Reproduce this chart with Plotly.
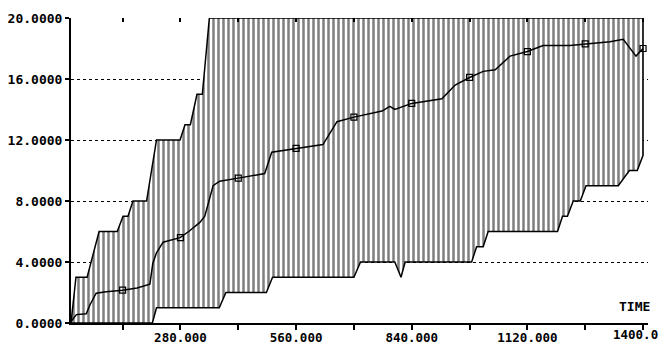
import plotly.graph_objects as go

# Upper envelope (step-like)
upper_x = [15, 27, 54, 83, 127, 141, 153, 165, 198, 222, 279, 291, 304, 320, 333, 345, 350, 1400]
upper_y = [0, 3, 3, 6, 6, 7, 7, 8, 8, 12, 12, 13, 13, 15, 15, 18.5, 20, 20]

# Lower envelope (step-like)
lower_x = [15, 212, 222, 374, 390, 488, 503, 700, 716, 799, 814, 824, 985, 997, 1013, 1025,
           1193, 1205, 1217, 1231, 1248, 1262, 1340, 1367, 1386, 1400]
lower_y = [0, 0, 1, 1, 2, 2, 3, 3, 4, 4, 3, 4, 4, 5, 5, 6,
           6, 7, 7, 8, 8, 9, 9, 10, 10, 11]

# Mean curve
mean_x = [15, 21, 28, 52, 61, 76, 100, 140, 175, 206, 213, 222, 238, 279, 300, 327, 339, 359, 375,
          420, 484, 501, 560, 625, 659, 700, 768, 787, 799, 840, 913, 945, 980, 1013, 1042, 1078,
          1120, 1158, 1223, 1260, 1320, 1352, 1383, 1400]
mean_y = [0.1, 0.3, 0.55, 0.6, 1.2, 1.95, 2.05, 2.15, 2.3, 2.55, 3.9, 4.6, 5.3, 5.6, 6.0, 6.6, 7.0, 9.0, 9.3,
          9.5, 9.8, 11.2, 11.45, 11.7, 13.2, 13.5, 13.9, 14.2, 14.0, 14.4, 14.7, 15.6, 16.1, 16.5, 16.6, 17.5,
          17.8, 18.2, 18.2, 18.3, 18.45, 18.6, 17.5, 18.0]

# Square markers
marker_x = [140, 280, 420, 560, 700, 840, 980, 1120, 1260, 1400]
marker_y = [2.15, 5.6, 9.5, 11.45, 13.5, 14.4, 16.1, 17.8, 18.3, 18.0]

# Axis ticks
x_tickvals = [140, 280, 420, 560, 700, 840, 980, 1120, 1260, 1400]
x_ticktext = ["", "280.000", "", "560.000", "", "840.000", "", "1120.000", "", ""]
last_tick_label = "1400.0"
y_tickvals = [0, 4, 8, 12, 16, 20]

FONT = dict(family="DejaVu Sans Mono", size=13, color="black", weight="bold")
XFONT = dict(family="DejaVu Sans Mono", size=12.5, color="black", weight="bold")

fig = go.Figure()

# Hatched band
fig.add_trace(go.Scatter(
    x=upper_x + lower_x[::-1],
    y=upper_y + lower_y[::-1],
    mode="lines",
    fill="toself",
    fillcolor="white",
    fillpattern=dict(shape="|", fgcolor="black", bgcolor="white", size=5, solidity=0.5),
    line=dict(color="black", width=1.5),
    hoverinfo="skip",
    showlegend=False,
))

# Mean line
fig.add_trace(go.Scatter(
    x=mean_x, y=mean_y, mode="lines",
    line=dict(color="black", width=1.5),
    showlegend=False,
))

# Markers (on overlaying top axis to also draw top ticks)
fig.add_trace(go.Scatter(
    x=marker_x, y=marker_y, mode="markers",
    marker=dict(symbol="square-open", size=6, color="black", line=dict(width=1.2)),
    xaxis="x2",
    showlegend=False,
))

xrange = [15, 1412]

fig.update_layout(
    width=661, height=344,
    margin=dict(l=71, r=13, t=18, b=21, autoexpand=False),
    paper_bgcolor="white", plot_bgcolor="white",
    font=FONT,
    xaxis=dict(
        range=xrange, showgrid=False, zeroline=False, automargin=False,
        showline=True, linecolor="black", linewidth=1.5,
        ticks="outside", ticklen=5, tickwidth=1.5, tickcolor="black",
        tickvals=x_tickvals, ticktext=x_ticktext,
        tickfont=XFONT, ticklabelstandoff=-3, ticklabeloverflow="allow",
    ),
    xaxis2=dict(
        range=xrange, overlaying="x", side="top", anchor="y", automargin=False,
        showgrid=False, zeroline=False, showline=False,
        ticks="inside", ticklen=4, tickwidth=1.5, tickcolor="black",
        tickvals=x_tickvals, showticklabels=False,
    ),
    yaxis=dict(
        range=[0, 20], zeroline=False, automargin=False,
        showgrid=True, gridcolor="black", gridwidth=1, griddash="dot",
        showline=True, linecolor="black", linewidth=2,
        ticks="outside", ticklen=4, tickwidth=1.5, tickcolor="black",
        tickvals=y_tickvals, tickformat=".4f",
        tickfont=FONT,
    ),
    annotations=[
        dict(text="TIME", xref="paper", x=1.0, xanchor="right", xshift=4,
             yref="y", y=1.05, yanchor="middle", showarrow=False, font=FONT),
        dict(text=last_tick_label, xref="paper", x=1.0, xanchor="right", xshift=11,
             yref="paper", y=0, yanchor="top", yshift=-3, showarrow=False, font=XFONT,
             borderpad=0),
    ],
)

fig.write_html("out.html", config={"displayModeBar": False},
               post_script="document.body.style.margin='0';document.body.style.overflow='hidden';")
